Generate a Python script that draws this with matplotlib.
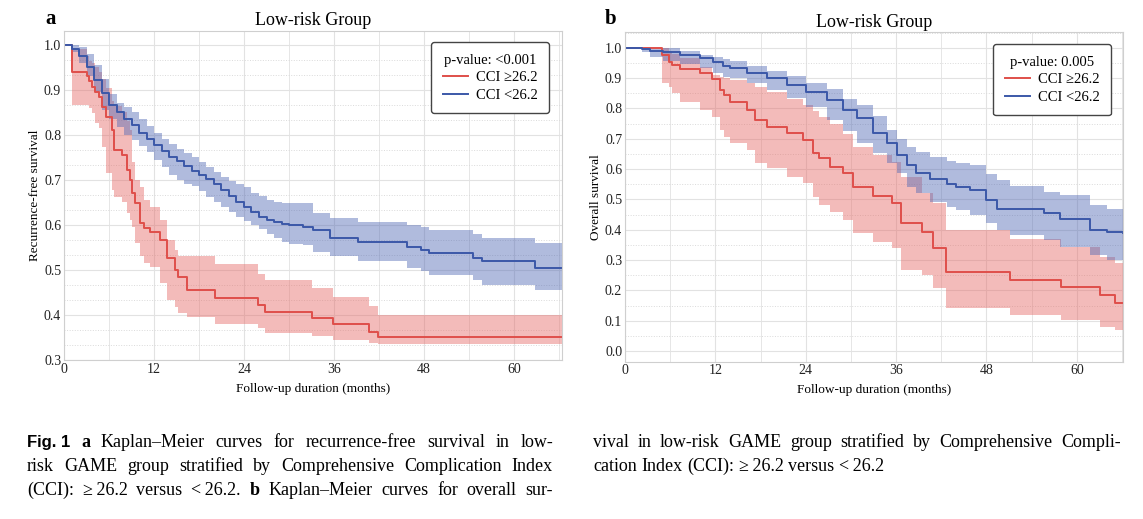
import numpy as np
import matplotlib
matplotlib.use("Agg")
import matplotlib.pyplot as plt
from matplotlib.ticker import MultipleLocator

plt.rcParams['font.family'] = ['Liberation Serif', 'DejaVu Serif']

# ---- panel a: recurrence-free survival, low-risk group ----
# CCI >= 26.2
rfs_high_t = [0, 1.0, 3.0, 3.3, 3.7, 4.1, 4.6, 5.0, 5.6, 6.4, 6.6, 7.7, 8.4, 8.8, 9.0, 9.5,
              10.1, 10.6, 11.5, 12.8, 13.7, 14.8, 15.2, 16.4, 20.1, 25.9, 26.8, 33.0, 35.9,
              40.6, 41.9, 66.4]
rfs_high_s = [1.0, 0.941, 0.930, 0.919, 0.907, 0.896, 0.885, 0.863, 0.840, 0.811, 0.767,
              0.756, 0.722, 0.700, 0.670, 0.648, 0.604, 0.593, 0.585, 0.567, 0.526, 0.500,
              0.485, 0.456, 0.437, 0.422, 0.407, 0.394, 0.379, 0.363, 0.350, 0.350]
rfs_high_lo = [1.0, 0.867, 0.867, 0.860, 0.848, 0.826, 0.815, 0.774, 0.715, 0.678, 0.663,
               0.650, 0.626, 0.610, 0.596, 0.559, 0.530, 0.515, 0.507, 0.470, 0.433, 0.418,
               0.405, 0.396, 0.381, 0.370, 0.361, 0.353, 0.344, 0.337, 0.335, 0.335]
rfs_high_up = [1.0, 0.990, 0.975, 0.965, 0.960, 0.950, 0.940, 0.925, 0.905, 0.875, 0.865,
               0.850, 0.830, 0.810, 0.740, 0.700, 0.685, 0.656, 0.640, 0.611, 0.567, 0.545,
               0.530, 0.530, 0.513, 0.490, 0.478, 0.459, 0.441, 0.420, 0.400, 0.400]
# CCI < 26.2
rfs_low_t = [0, 1, 2, 3, 4, 5, 6, 7, 8, 9, 10, 11, 12, 13, 14, 15, 16, 17, 18, 19, 20, 21,
             22, 23, 24, 25, 26, 27, 28, 29, 30, 31.9, 33.2, 35.5, 39.2, 45.7, 47.6, 48.7,
             54.6, 55.7, 62.8, 66.4]
rfs_low_s = [1.0, 0.99, 0.975, 0.950, 0.922, 0.893, 0.866, 0.850, 0.836, 0.822, 0.805,
             0.792, 0.778, 0.765, 0.752, 0.742, 0.730, 0.720, 0.712, 0.703, 0.690, 0.678,
             0.665, 0.652, 0.640, 0.628, 0.618, 0.612, 0.606, 0.602, 0.600, 0.596, 0.589,
             0.570, 0.563, 0.552, 0.544, 0.537, 0.526, 0.519, 0.505, 0.505]
rfs_low_lo = [1.0, 0.985, 0.96, 0.93, 0.895, 0.855, 0.835, 0.818, 0.80, 0.788, 0.775, 0.762,
              0.745, 0.728, 0.712, 0.70, 0.692, 0.686, 0.675, 0.662, 0.652, 0.64, 0.628,
              0.618, 0.609, 0.6, 0.59, 0.58, 0.57, 0.563, 0.558, 0.556, 0.541, 0.53, 0.519,
              0.504, 0.497, 0.489, 0.478, 0.467, 0.456, 0.456]
rfs_low_up = [1.0, 1.0, 0.995, 0.98, 0.955, 0.925, 0.89, 0.872, 0.862, 0.85, 0.835, 0.82,
              0.805, 0.792, 0.78, 0.768, 0.76, 0.752, 0.74, 0.728, 0.718, 0.706, 0.698, 0.69,
              0.684, 0.672, 0.664, 0.656, 0.65, 0.648, 0.648, 0.648, 0.626, 0.615, 0.607,
              0.60, 0.595, 0.589, 0.58, 0.570, 0.559, 0.559]

# ---- panel b: overall survival, low-risk group ----
os_high_t = [0, 4.9, 5.8, 6.2, 7.3, 10.0, 11.5, 12.6, 13.2, 13.9, 16.2, 17.3, 18.8, 21.5,
             23.7, 25.0, 25.7, 27.2, 29.0, 30.3, 33.0, 35.4, 36.7, 39.4, 40.9, 42.6, 51.1,
             57.9, 63.1, 65.1, 66.1]
os_high_s = [1.0, 0.976, 0.954, 0.943, 0.929, 0.916, 0.896, 0.861, 0.844, 0.822, 0.795,
             0.762, 0.738, 0.718, 0.696, 0.652, 0.636, 0.608, 0.586, 0.542, 0.512, 0.489,
             0.421, 0.393, 0.339, 0.261, 0.236, 0.210, 0.185, 0.157, 0.157]
os_high_lo = [1.0, 0.883, 0.870, 0.850, 0.822, 0.795, 0.773, 0.729, 0.707, 0.685, 0.663,
              0.619, 0.602, 0.575, 0.553, 0.509, 0.481, 0.459, 0.432, 0.388, 0.360, 0.339,
              0.267, 0.250, 0.207, 0.141, 0.119, 0.102, 0.080, 0.069, 0.069]
os_high_up = [1.0, 1.0, 0.99, 0.98, 0.965, 0.937, 0.910, 0.905, 0.90, 0.895, 0.885, 0.871,
              0.855, 0.830, 0.810, 0.790, 0.772, 0.750, 0.715, 0.674, 0.645, 0.625, 0.575,
              0.520, 0.488, 0.399, 0.371, 0.344, 0.311, 0.289, 0.289]
# CCI < 26.2
os_low_t = [0, 2.3, 3.3, 5.1, 7.3, 10.0, 11.7, 13.0, 13.9, 16.2, 18.8, 21.5, 24.1, 26.8,
            29.0, 30.8, 33.0, 34.8, 36.1, 37.4, 38.7, 40.5, 42.7, 44.0, 45.8, 48.0, 49.4,
            51.1, 55.6, 57.8, 61.8, 64.0, 66.1]
os_low_s = [1.0, 0.995, 0.99, 0.987, 0.976, 0.965, 0.954, 0.94, 0.932, 0.916, 0.899, 0.877,
            0.855, 0.828, 0.795, 0.767, 0.718, 0.685, 0.647, 0.613, 0.586, 0.566, 0.550,
            0.542, 0.532, 0.498, 0.469, 0.469, 0.454, 0.437, 0.399, 0.393, 0.388]
os_low_lo = [1.0, 0.985, 0.970, 0.958, 0.945, 0.932, 0.918, 0.905, 0.900, 0.885, 0.860,
             0.835, 0.805, 0.762, 0.725, 0.685, 0.652, 0.619, 0.586, 0.542, 0.520, 0.490,
             0.476, 0.465, 0.448, 0.421, 0.399, 0.382, 0.366, 0.344, 0.316, 0.300, 0.294]
os_low_up = [1.0, 1.0, 1.0, 0.998, 0.988, 0.976, 0.968, 0.962, 0.958, 0.940, 0.925, 0.908,
             0.885, 0.865, 0.832, 0.810, 0.775, 0.730, 0.700, 0.674, 0.655, 0.640, 0.628,
             0.619, 0.613, 0.585, 0.564, 0.545, 0.525, 0.514, 0.481, 0.470, 0.470]

group_labels = ['CCI \u226526.2', 'CCI <26.2']
pvalues = ['p-value: <0.001', 'p-value: 0.005']
ylabels = ['Recurrence-free survival', 'Overall survival']
xticks = [0, 12, 24, 36, 48, 60]

RED, BLUE = '#df4f4a', '#3b58a8'
RED_FILL, BLUE_FILL = '#e66a66', '#5068b4'

W, H = 1143, 519
fig = plt.figure(figsize=(W / 100, H / 100), dpi=100)


def px_axes(x0, y0, x1, y1):
    return fig.add_axes([x0 / W, 1 - y1 / H, (x1 - x0) / W, (y1 - y0) / H])


ax1 = px_axes(64, 31, 562, 360)
ax2 = px_axes(625, 32.3, 1122.7, 361.7)

panels = [
    (ax1, [(rfs_high_t, rfs_high_s, rfs_high_lo, rfs_high_up),
           (rfs_low_t, rfs_low_s, rfs_low_lo, rfs_low_up)], (0.3, 1.031), 66.4, 0.1 / 3),
    (ax2, [(os_high_t, os_high_s, os_high_lo, os_high_up),
           (os_low_t, os_low_s, os_low_lo, os_low_up)], (-0.035, 1.051), 66.1, 0.05),
]

for i, (ax, curves, ylim, xmax, yminor) in enumerate(panels):
    for (t, s, lo, up), col, fcol, lab in zip(curves, [RED, BLUE], [RED_FILL, BLUE_FILL], group_labels):
        ax.fill_between(t, lo, up, step='post', color=fcol, alpha=0.45, lw=0)
        ax.step(t, s, where='post', color=col, lw=1.4, label=lab)
    ax.set_xlim(0, xmax)
    ax.set_ylim(*ylim)
    ax.set_xticks(xticks)
    ax.xaxis.set_minor_locator(MultipleLocator(6))
    ax.yaxis.set_major_locator(MultipleLocator(0.1))
    ax.yaxis.set_minor_locator(MultipleLocator(yminor))
    ax.yaxis.set_major_formatter(plt.FormatStrFormatter('%.1f'))
    ax.grid(which='major', color='#e2e2e2', lw=0.8)
    ax.grid(which='minor', axis='x', color='#e6e6e6', lw=0.7)
    ax.grid(which='minor', axis='y', color='#dadada', lw=0.7, ls=':')
    ax.set_axisbelow(True)
    ax.tick_params(which='both', length=0, labelsize=10, pad=2, colors='#222222')
    for sp in ax.spines.values():
        sp.set_color('#cfcfcf')
        sp.set_linewidth(0.8)
    ax.set_title('Low-risk Group', fontsize=13, pad=4)
    ax.set_xlabel('Follow-up duration (months)', fontsize=9.5, labelpad=5)
    ax.set_ylabel(ylabels[i], fontsize=9.5, labelpad=2)

leg_anchor = [(0.974, 0.967), (0.9765, 0.9645)]
for ax, pv, anc in zip([ax1, ax2], pvalues, leg_anchor):
    leg = ax.legend(title=pv, loc='upper right', bbox_to_anchor=anc, borderaxespad=0,
                    fontsize=10.5, title_fontsize=10.5, handlelength=1.7, handletextpad=0.55,
                    labelspacing=0.3, borderpad=0.8, fancybox=True, framealpha=1)
    leg.get_frame().set_edgecolor('#444444')
    leg.get_frame().set_linewidth(1.0)

fig.text(45 / W, 1 - 24 / H, 'a', fontsize=15, fontweight='bold', va='baseline')
fig.text(605 / W, 1 - 24 / H, 'b', fontsize=15, fontweight='bold', va='baseline')

# ---- caption, justified like the journal page ----
serif = dict(fontsize=13)
serif_b = dict(fontsize=13, fontweight='bold')
sans_b = dict(fontsize=12, fontweight='bold', family=['Liberation Sans', 'DejaVu Sans'])

cap_left = [
    [('Fig. 1', sans_b), ('a', serif_b)] + [(w, serif) for w in
        'Kaplan\u2013Meier curves for recurrence-free survival in low-'.split()],
    [(w, serif) for w in 'risk GAME group stratified by Comprehensive Complication Index'.split()],
    [(w, serif) for w in '(CCI): \u2265\u200926.2 versus <\u200926.2.'.split(' ')] + [('b', serif_b)]
    + [(w, serif) for w in 'Kaplan\u2013Meier curves for overall sur-'.split()],
]
cap_right = [
    [(w, serif) for w in 'vival in low-risk GAME group stratified by Comprehensive Compli-'.split()],
    [(w, serif) for w in 'cation Index (CCI): \u2265\u200926.2 versus <\u200926.2'.split(' ')],
]

renderer = fig.canvas.get_renderer()


def put_line(tokens, x0, x1, base, justify=True):
    texts = [fig.text(0, 1 - base / H, w, va='baseline', **kw) for w, kw in tokens]
    widths = [t.get_window_extent(renderer).width for t in texts]
    if justify:
        gap = (x1 - x0 - sum(widths)) / (len(texts) - 1)
    else:
        gap = 4.6
    x = x0
    for t, w in zip(texts, widths):
        t.set_x(x / W)
        x += w + gap


for k, line in enumerate(cap_left):
    put_line(line, 27, 553, 447 + 24 * k)
put_line(cap_right[0], 593, 1121, 447)
put_line(cap_right[1], 593, 1121, 471, justify=False)

fig.savefig('out.png', dpi=100)
